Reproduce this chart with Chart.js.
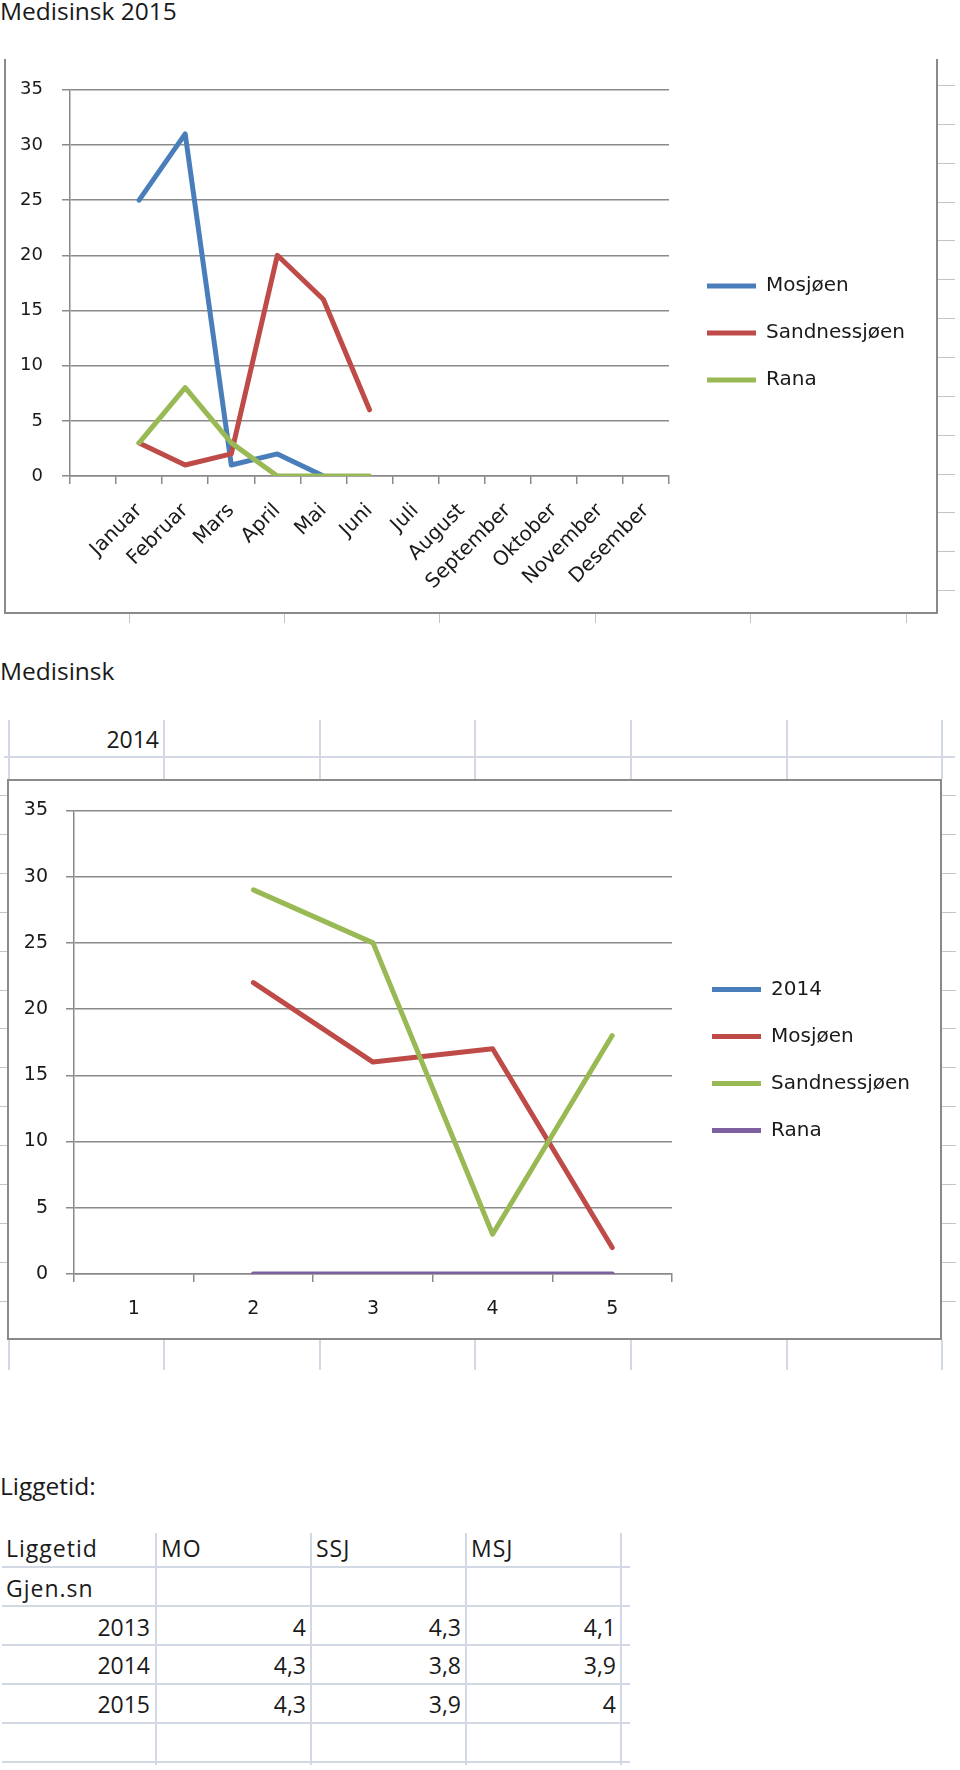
<!DOCTYPE html>
<html>
<head>
<meta charset="utf-8">
<script src="https://cdn.jsdelivr.net/npm/chart.js@4.4.0/dist/chart.umd.min.js"></script>
<style>
  body { margin: 0; width: 960px; height: 1770px; position: relative; background: #fff; overflow: hidden;
         font-family: "Open Sans", sans-serif; color: #1a1a1a; }
  .title { position: absolute; left: 0; font-size: 24.5px; line-height: 24px; white-space: nowrap; }
  .frame { position: absolute; box-sizing: border-box; border: 2px solid #8a8a8a; }
  .ln { position: absolute; }
  .txt { position: absolute; font-size: 23px; line-height: 23px; white-space: nowrap; }
  .word { letter-spacing: 1px; }
  canvas { position: absolute; }
</style>
</head>
<body>
<div class="title" style="top:-1px">Medisinsk 2015</div>
<canvas id="chart2015" width="930" height="552" style="left:6px;top:60px"></canvas>
<div class="frame" style="left:4px;top:59px;width:934px;height:555px;border-top:none"></div>

<div class="title" style="top:659px">Medisinsk</div>
<canvas id="chart2014" width="931" height="557" style="left:9px;top:781px"></canvas>
<div class="frame" style="left:7px;top:779px;width:935px;height:561px"></div>

<div class="title" style="top:1474px">Liggetid:</div>

<script>
// Medisinsk 2015
const months2015 = ['', 'Januar', 'Februar', 'Mars', 'April', 'Mai', 'Juni', 'Juli', 'August', 'September', 'Oktober', 'November', 'Desember'];
const names2015 = ['Mosjøen', 'Sandnessjøen', 'Rana'];
const mosjoen2015 = [null, 25, 31, 1, 2, 0, null, null, null, null, null, null, null];
const sandnessjoen2015 = [null, 3, 1, 2, 20, 16, 6, null, null, null, null, null, null];
const rana2015 = [null, 3, 8, 3, 0, 0, 0, null, null, null, null, null, null];

// Medisinsk 2014
const periods2014 = ['1', '2', '3', '4', '5'];
const names2014 = ['2014', 'Mosjøen', 'Sandnessjøen', 'Rana'];
const year2014 = [null, null, null, null, null];
const mosjoen2014 = [null, 22, 16, 17, 2];
const sandnessjoen2014 = [null, 29, 25, 3, 18];
const rana2014 = [null, 0, 0, 0, 0];

// Liggetid
const tableHead = ['Liggetid', 'MO', 'SSJ', 'MSJ'];
const tableSub = 'Gjen.sn';
const tableYears = ['2013', '2014', '2015'];
const liggetidMO = [4, 4.3, 4.3];
const liggetidSSJ = [4.3, 3.8, 3.9];
const liggetidMSJ = [4.1, 3.9, 4];

const BLUE = '#4a7ebb', RED = '#be4b48', GREEN = '#98b954', PURPLE = '#7d60a0';
const GRID = '#8a8a8a';
const INK = '#1a1a1a';
const LEGEND_SIZE = 20, LEGEND_PAD = 27, LEGEND_LINE = 49;

Chart.defaults.font.family = 'DejaVu Sans';
Chart.defaults.color = INK;

// width the legend box will ask for, so the plot can end where Excel ends it
function legendWidth(names) {
    const ctx = document.createElement('canvas').getContext('2d');
    ctx.font = LEGEND_SIZE + 'px DejaVu Sans';
    const widest = Math.max(...names.map(n => ctx.measureText(n).width));
    return LEGEND_PAD + LEGEND_LINE + LEGEND_SIZE / 2 + widest + 10;
}

function line(label, data, color, n, i) {
    return {
        label: label, data: data,
        borderColor: color, backgroundColor: color,
        borderWidth: 5, pointRadius: 0, tension: 0,
        borderCapStyle: 'round', borderJoinStyle: 'round',
        order: n - i
    };
}

function makeChart(id, labels, sets, cfg) {
    const canvas = document.getElementById(id);
    const names = sets.map(s => s[0]);
    const padRight = canvas.width - cfg.plotRight - cfg.gap - legendWidth(names);
    new Chart(canvas, {
        type: 'line',
        data: { labels: labels, datasets: sets.map((s, i) => line(s[0], s[1], s[2], sets.length, i)) },
        options: {
            responsive: false, animation: false, devicePixelRatio: 1,
            layout: { padding: { left: 0, top: cfg.padTop, right: padRight, bottom: cfg.padBottom } },
            plugins: {
                tooltip: { enabled: false },
                legend: {
                    position: 'right', align: 'center', reverse: true, maxWidth: 500,
                    labels: {
                        usePointStyle: true, pointStyle: 'line', pointStyleWidth: LEGEND_LINE,
                        padding: LEGEND_PAD, color: INK, font: { size: LEGEND_SIZE }
                    }
                }
            },
            scales: {
                x: {
                    offset: true,
                    grid: { display: true, drawOnChartArea: false, drawTicks: true, tickLength: 8, color: GRID, lineWidth: 1.5, offset: true },
                    border: { display: true, color: GRID, width: 1.5 },
                    ticks: { autoSkip: false, maxRotation: cfg.rot, minRotation: cfg.rot, padding: cfg.xPad, color: INK, font: { size: cfg.xSize } },
                    afterFit: s => { s.height = cfg.xH; }
                },
                y: {
                    min: 0, max: 35,
                    grid: { color: GRID, lineWidth: 1.5, tickLength: 8 },
                    border: { display: true, color: GRID, width: 1.5 },
                    ticks: { stepSize: 5, padding: cfg.yPad, color: INK, font: { size: cfg.ySize } },
                    afterFit: s => { s.width = cfg.yW; }
                },
                gapRight: {
                    type: 'linear', position: 'right', display: true,
                    grid: { display: false }, border: { display: false }, ticks: { display: false },
                    afterFit: s => { s.width = cfg.gap; }
                },
                gapTop: {
                    type: 'linear', position: 'top', display: true,
                    grid: { display: false }, border: { display: false }, ticks: { display: false },
                    afterFit: s => { s.height = cfg.gapTop; }
                }
            }
        }
    });
}

makeChart('chart2015', months2015, [
    [names2015[0], mosjoen2015, BLUE],
    [names2015[1], sandnessjoen2015, RED],
    [names2015[2], rana2015, GREEN]
], { padTop: 14, gapTop: 8, padBottom: 20, plotRight: 663, gap: 11, rot: 45, xPad: 15, xH: 116, xSize: 20, yW: 64, yPad: 19, ySize: 18 });

makeChart('chart2014', periods2014, [
    [names2014[0], year2014, BLUE],
    [names2014[1], mosjoen2014, RED],
    [names2014[2], sandnessjoen2014, GREEN],
    [names2014[3], rana2014, PURPLE]
], { padTop: 18, gapTop: 9, padBottom: 17, plotRight: 663, gap: 13, rot: 0, xPad: 16, xH: 47, xSize: 19, yW: 65, yPad: 18, ySize: 19 });

// spreadsheet lines around the pasted charts
function rule(x, y, w, h, color) {
    const d = document.createElement('div');
    d.className = 'ln';
    d.style.cssText = 'left:' + x + 'px;top:' + y + 'px;width:' + w + 'px;height:' + h + 'px;background:' + color;
    document.body.appendChild(d);
}
function text(str, x, baseline, align) {
    const d = document.createElement('div');
    d.className = 'txt' + (/[A-Za-z]/.test(str) ? ' word' : '');
    d.textContent = str;
    d.style.top = (baseline - 20.4) + 'px';
    if (align === 'right') d.style.right = (960 - x) + 'px'; else d.style.left = x + 'px';
    document.body.appendChild(d);
}
const SHEET = '#d3d9e4', TICK = '#c4c4c4';
for (let k = 0; k < 14; k++) rule(938, Math.round(85 + k * 38.85), 17, 1, TICK);
[129, 284, 439, 595, 750, 906].forEach(x => rule(x, 614, 1, 9, TICK));

const cols2014 = [8, 163, 319, 474, 630, 786, 941];
cols2014.forEach(x => { rule(x, 720, 2, 59, SHEET); rule(x, 1340, 2, 30, SHEET); });
rule(4, 756, 951, 2, SHEET);
for (let k = 0; k < 14; k++) {
    const y = Math.round(795 + k * 38.9);
    rule(0, y, 7, 1, TICK);
    rule(942, y, 14, 1, TICK);
}
text('2014', 159, 748, 'right');

// Liggetid table
const colEdges = [2, 156, 311, 466, 621];
const rowLines = [1567, 1606, 1645, 1684, 1723, 1762];
colEdges.slice(1).forEach(x => rule(x - 1, 1533, 2, 232, SHEET));
rowLines.forEach(y => rule(2, y - 1, 628, 2, SHEET));
tableHead.forEach((h, i) => text(h, i === 0 ? 6 : colEdges[i] + 5, 1557));
text(tableSub, 6, 1597);
const fmt = v => String(v).replace('.', ',');
tableYears.forEach((yr, r) => {
    const base = [1636, 1674, 1713][r];
    text(yr, colEdges[1] - 6, base, 'right');
    text(fmt(liggetidMO[r]), colEdges[2] - 5, base, 'right');
    text(fmt(liggetidSSJ[r]), colEdges[3] - 5, base, 'right');
    text(fmt(liggetidMSJ[r]), colEdges[4] - 5, base, 'right');
});
</script>
</body>
</html>
